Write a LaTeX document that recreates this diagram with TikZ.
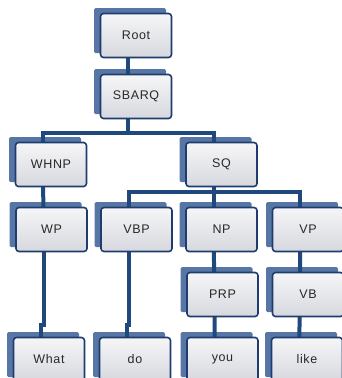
\documentclass[tikz,border=0pt]{standalone}
\usepackage{fontspec}
\setmainfont[LetterSpace=5]{Liberation Sans}
\definecolor{shadowblue}{RGB}{88,118,165}
\definecolor{boxborder}{RGB}{30,60,110}
\definecolor{linkblue}{RGB}{31,73,125}
\definecolor{boxtop}{RGB}{246,246,248}
\definecolor{boxbot}{RGB}{214,216,222}
\definecolor{txtgray}{RGB}{40,40,40}
\pgfdeclarelayer{shad}
\pgfdeclarelayer{lnk}
\pgfsetlayers{shad,lnk,main}
\tikzset{
  tbox/.style={draw=boxborder, line width=1.6pt, rounded corners=3pt,
    top color=boxtop, bottom color=boxbot, minimum width=71pt, minimum height=44pt,
    inner sep=0pt, text=txtgray, font=\fontsize{12.5}{14}\selectfont},
  sbox/.style={fill=shadowblue, rounded corners=1.5pt, minimum width=72pt,
    minimum height=45pt, inner sep=0pt},
  link/.style={draw=linkblue, line width=4pt, line join=miter}
}
\newcommand{\tn}[4]{%
  \node[tbox] (#1) at (#2,#3) {#4};
  \begin{pgfonlayer}{shad}
    \node[sbox] (#1-sh) at ([xshift=-6pt,yshift=5pt]#1.center) {};
  \end{pgfonlayer}
  \coordinate (#1-a) at ([xshift=-8pt]#1.center);
}
\begin{document}
\begin{tikzpicture}[x=1pt,y=-1pt]
\useasboundingbox (0,0) rectangle (341,378);
\tn{root}{136}{35.5}{Root}
\tn{sbarq}{136}{96.5}{SBARQ}
\tn{whnp}{51}{164.5}{WHNP}
\tn{sq}{221.5}{164.5}{SQ}
\tn{wp}{51.5}{229.5}{WP}
\tn{vbp}{136.5}{229.5}{VBP}
\tn{np}{221.5}{229.5}{NP}
\tn{vp}{308}{229.5}{VP}
\tn{prp}{222.5}{294.5}{PRP}
\tn{vb}{308}{294.5}{VB}
\tn{what}{49}{359.5}{What}
\tn{do}{135}{359.5}{do}
\tn{you}{222.5}{359.5}{you}
\tn{like}{307}{359.5}{like}
\coordinate (bar1) at (0,133);
\coordinate (bar2) at (0,192);
\coordinate (jog) at (0,325);
\begin{pgfonlayer}{lnk}
  \draw[link] (root-a) -- (sbarq-a);
  \draw[link] (sbarq-a) -- (sbarq-a |- bar1);
  \draw[link] (whnp-a) |- (sq-a |- bar1) -- (sq-a);
  \draw[link] (sq-a) -- (sq-a |- bar2);
  \draw[link] (vbp-a) |- (vp-a |- bar2) -- (vp-a);
  \draw[link] (np-a) -- (sq-a |- bar2);
  \draw[link] (whnp-a) -- (wp-a);
  \draw[link] (wp-a) -- (wp-a |- jog) -| (what-a);
  \draw[link] (vbp-a) -- (vbp-a |- jog) -| (do-a);
  \draw[link] (np-a) -- (prp-a) -- (you-a);
  \draw[link] (vp-a) -- (vb-a) -- (like-a);
\end{pgfonlayer}
\end{tikzpicture}
\end{document}
